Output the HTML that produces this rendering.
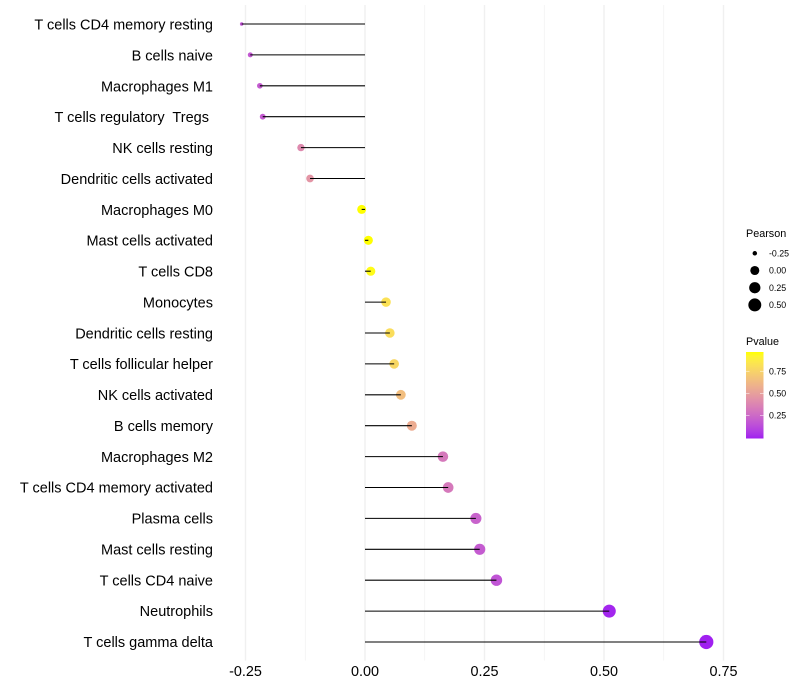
<!DOCTYPE html>
<html>
<head>
<meta charset="utf-8">
<style>
html,body{margin:0;padding:0;background:#fff;}
svg{display:block;font-family:"Liberation Sans",sans-serif;}
text{white-space:pre;}
</style>
</head>
<body>
<svg id="chart" width="800" height="700" viewBox="0 0 800 700" xmlns="http://www.w3.org/2000/svg">
<defs>
<linearGradient id="pvalue-gradient" x1="0" y1="1" x2="0" y2="0"></linearGradient>
</defs>
</svg>
<script>
const categories = ["T cells CD4 memory resting","B cells naive","Macrophages M1","T cells regulatory  Tregs ","NK cells resting","Dendritic cells activated","Macrophages M0","Mast cells activated","T cells CD8","Monocytes","Dendritic cells resting","T cells follicular helper","NK cells activated","B cells memory","Macrophages M2","T cells CD4 memory activated","Plasma cells","Mast cells resting","T cells CD4 naive","Neutrophils","T cells gamma delta"];
const pearsonValues = [-0.258,-0.240,-0.220,-0.214,-0.134,-0.115,-0.007,0.007,0.012,0.044,0.052,0.061,0.075,0.098,0.163,0.174,0.232,0.240,0.275,0.511,0.714];
const pValues = [0.17,0.19,0.20,0.20,0.41,0.46,0.975,0.975,0.96,0.83,0.81,0.78,0.66,0.57,0.33,0.33,0.23,0.20,0.17,0.015,0.001];
const xTicks = [-0.25,0,0.25,0.5,0.75];
const xTickLabels = ["-0.25","0.00","0.25","0.50","0.75"];
const xMinorTicks = [-0.125,0.125,0.375,0.625];
const sizeLegendValues = [-0.25,0,0.25,0.5];
const sizeLegendLabels = ["-0.25","0.00","0.25","0.50"];
const colorLegendValues = [0.75,0.5,0.25];
const colorLegendLabels = ["0.75","0.50","0.25"];

const svg = document.getElementById('chart');
const NS = 'http://www.w3.org/2000/svg';
function mk(tag, attrs, parent, txt){
  const e = document.createElementNS(NS, tag);
  for (const k in attrs) e.setAttribute(k, attrs[k]);
  if (txt !== undefined) e.textContent = txt;
  (parent || svg).appendChild(e);
  return e;
}
const xScale = v => 365 + v * 478;
const yScale = i => 24 + i * 30.9;
const labelY = i => 29.6 + i * 30.87;
const PANEL_TOP = 5, PANEL_BOTTOM = 660.6;

const minV = Math.min(...pearsonValues), maxV = Math.max(...pearsonValues);
function radius(v){
  const t = Math.max(0, Math.min(1, (v - minV) / (maxV - minV)));
  const s = 1 + 5 * Math.sqrt(t);
  return 0.375 * (2.845 * s + 0.94) + 0.35;
}

function rgb2lab(c){
  const f = u => { u/=255; return u>0.04045?Math.pow((u+0.055)/1.055,2.4):u/12.92; };
  const r=f(c[0]),g=f(c[1]),b=f(c[2]);
  const X=(0.4124*r+0.3576*g+0.1805*b)/0.95047,Y=0.2126*r+0.7152*g+0.0722*b,Z=(0.0193*r+0.1192*g+0.9505*b)/1.08883;
  const h=t=>t>0.008856?Math.cbrt(t):7.787*t+16/116;
  return [116*h(Y)-16,500*(h(X)-h(Y)),200*(h(Y)-h(Z))];
}
function lab2rgb(l){
  const y=(l[0]+16)/116,x=l[1]/500+y,z=y-l[2]/200;
  const h=t=>t*t*t>0.008856?t*t*t:(t-16/116)/7.787;
  const X=h(x)*0.95047,Y=h(y),Z=h(z)*1.08883;
  const g=u=>{u=u>0.0031308?1.055*Math.pow(u,1/2.4)-0.055:12.92*u;return Math.round(Math.max(0,Math.min(1,u))*255);};
  return [g(3.2406*X-1.5372*Y-0.4986*Z),g(-0.9689*X+1.8758*Y+0.0415*Z),g(0.0557*X-0.2040*Y+1.0570*Z)];
}
const labLow = rgb2lab([160,32,240]), labHigh = rgb2lab([255,255,0]);
function pColor(p){
  const t = Math.max(0, Math.min(1, p / 0.975));
  const c = lab2rgb([0,1,2].map(i => labLow[i] + (labHigh[i] - labLow[i]) * t));
  return 'rgb(' + c.join(',') + ')';
}

/* grid */
const gridGroup = mk('g', {});


xMinorTicks.forEach(v => {
  const l = mk('line', {x1:xScale(v), x2:xScale(v), y1:PANEL_TOP, y2:PANEL_BOTTOM, stroke:'#eeeeee', 'stroke-width':0.6}, gridGroup);
  
  
});
xTicks.forEach(v => {
  const l = mk('line', {x1:xScale(v), x2:xScale(v), y1:PANEL_TOP, y2:PANEL_BOTTOM, stroke:'#f0f0f0', 'stroke-width':1.4}, gridGroup);
  
  
});

/* points */
categories.forEach((c, i) => {
  const p = mk('circle', {cx:xScale(pearsonValues[i]), cy:yScale(i), r:radius(pearsonValues[i]), fill:pColor(pValues[i])});
  
  
});
/* segments */
categories.forEach((c, i) => {
  const s = mk('line', {x1:xScale(0), x2:xScale(pearsonValues[i]), y1:yScale(i), y2:yScale(i), stroke:'#000', 'stroke-width':1.07});
  
  
});
/* y labels */
categories.forEach((c, i) => {
  const t = mk('text', {x:213, y:labelY(i), 'text-anchor':'end', 'font-size':14.5, fill:'#000'}, null, c);
  
  
});
/* x labels */
xTicks.forEach((v, i) => {
  const t = mk('text', {x:xScale(v), y:676, 'text-anchor':'middle', 'font-size':14.4, fill:'#000'}, null, xTickLabels[i]);
  
  
});

/* size legend */
const sizeLegend = mk('g', {});


const sizeTitle = mk('text', {x:746, y:237, 'font-size':10.8, fill:'#000'}, sizeLegend, 'Pearson');


sizeLegendValues.forEach((v, i) => {
  const y = 253.3 + i * 17.2;
  const d = mk('circle', {cx:754.8, cy:y, r:radius(v), fill:'#000'}, sizeLegend);
  
  
  const t = mk('text', {x:769, y:y + 3.1, 'font-size':8.8, fill:'#000'}, sizeLegend, sizeLegendLabels[i]);
  
  
});

/* colour legend */
const grad = document.getElementById('pvalue-gradient');
for (let k = 0; k <= 20; k++) {
  mk('stop', {offset:(k * 5) + '%', 'stop-color':pColor(k / 20 * 0.975)}, grad);
}
const colorLegend = mk('g', {});


const colorTitle = mk('text', {x:746, y:345, 'font-size':10.8, fill:'#000'}, colorLegend, 'Pvalue');


const bar = mk('rect', {x:746, y:352, width:17.5, height:86.5, fill:'url(#pvalue-gradient)'}, colorLegend);


const barY = p => 437.8 - p * 88.8;
colorLegendValues.forEach((p, i) => {
  const y = barY(p);
  const a = mk('line', {x1:746, x2:749.5, y1:y, y2:y, stroke:'#fff', 'stroke-width':0.5}, colorLegend);
  
  
  const b = mk('line', {x1:760, x2:763.5, y1:y, y2:y, stroke:'#fff', 'stroke-width':0.5}, colorLegend);
  
  
  const t = mk('text', {x:769, y:y + 3.1, 'font-size':8.8, fill:'#000'}, colorLegend, colorLegendLabels[i]);
  
  
});
</script>
</body>
</html>
